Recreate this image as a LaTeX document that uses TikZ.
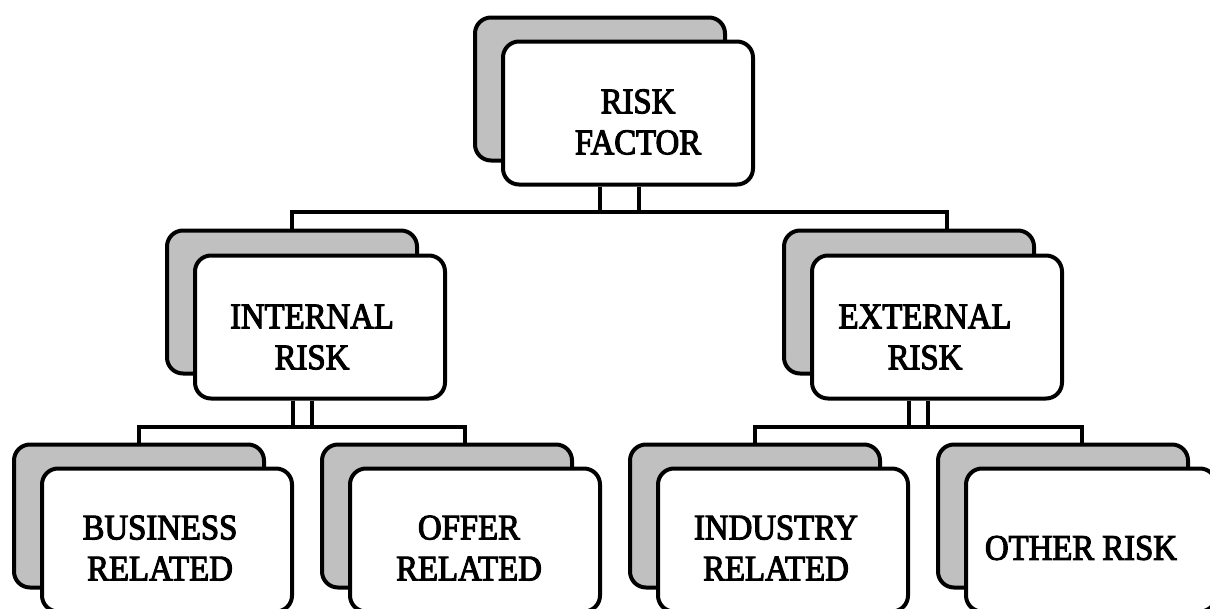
\documentclass[tikz,border=0pt]{standalone}
\usepackage{fontspec}
\setmainfont{Liberation Serif}[FakeStretch=0.91,FakeBold=3]
\begin{document}
\begin{tikzpicture}[x=1pt,y=-1pt,
  backbox/.style={draw=black,line width=4pt,rounded corners=16pt,fill=shadowgray,minimum width=250pt,minimum height=143pt,inner sep=0pt},
  frontbox/.style={draw=black,line width=4pt,rounded corners=16pt,fill=white,minimum width=250pt,minimum height=143pt,inner sep=0pt},
  lbl/.style={align=center,inner sep=0pt,font=\fontsize{36}{41}\selectfont},
  conn/.style={draw=black,line width=3.5pt}]
\definecolor{shadowgray}{HTML}{C0C0C0}
\useasboundingbox (0,0) rectangle (1210,608);
\clip (0,0) rectangle (1210,608);
% top
\node[backbox] (rfb) at (600,89) {};
\node[frontbox] (rf) at (628,113) {};
\node[lbl] (rft) at (638,122) {RISK\\FACTOR};
% level 2
\node[backbox] (inb) at (292,302) {};
\node[frontbox] (in) at (320,327) {};
\node[lbl] (int) at (312,337) {INTERNAL\\RISK};
\node[backbox] (exb) at (909,302) {};
\node[frontbox] (ex) at (937,327) {};
\node[lbl] (ext) at (925,337) {EXTERNAL\\RISK};
% level 3
\node[backbox] (bub) at (139,516) {};
\node[frontbox] (bu) at (167,540) {};
\node[lbl] (but) at (160,548) {BUSINESS\\RELATED};
\node[backbox] (ofb) at (447,516) {};
\node[frontbox] (of) at (475,540) {};
\node[lbl] (oft) at (469,548) {OFFER\\RELATED};
\node[backbox] (idb) at (755,516) {};
\node[frontbox] (id) at (783,540) {};
\node[lbl] (idt) at (776,548) {INDUSTRY\\RELATED};
\node[backbox] (otb) at (1063,516) {};
\node[frontbox] (ot) at (1091,540) {};
\node[lbl] (ott) at (1081,548) {OTHER RISK};
% junctions
\coordinate (j0) at (619.5,212);
\coordinate (j1) at (302.5,427);
\coordinate (j2) at (918.5,427);
% connectors top
\draw[conn] ([xshift=-19.5]j0 |- rf.south) -- ([xshift=-19.5]j0);
\draw[conn] ([xshift=19.5]j0 |- rf.south) -- ([xshift=19.5]j0);
\draw[conn] (inb.north) |- (j0) -| ([xshift=38]exb.north);
% connectors internal
\draw[conn] ([xshift=-9.5]j1 |- in.south) -- ([xshift=-9.5]j1);
\draw[conn] ([xshift=9.5]j1 |- in.south) -- ([xshift=9.5]j1);
\draw[conn] (bub.north) |- (j1) -| ([xshift=18]ofb.north);
% connectors external
\draw[conn] ([xshift=-9.5]j2 |- ex.south) -- ([xshift=-9.5]j2);
\draw[conn] ([xshift=9.5]j2 |- ex.south) -- ([xshift=9.5]j2);
\draw[conn] (idb.north) |- (j2) -| ([xshift=19]otb.north);
\end{tikzpicture}
\end{document}
